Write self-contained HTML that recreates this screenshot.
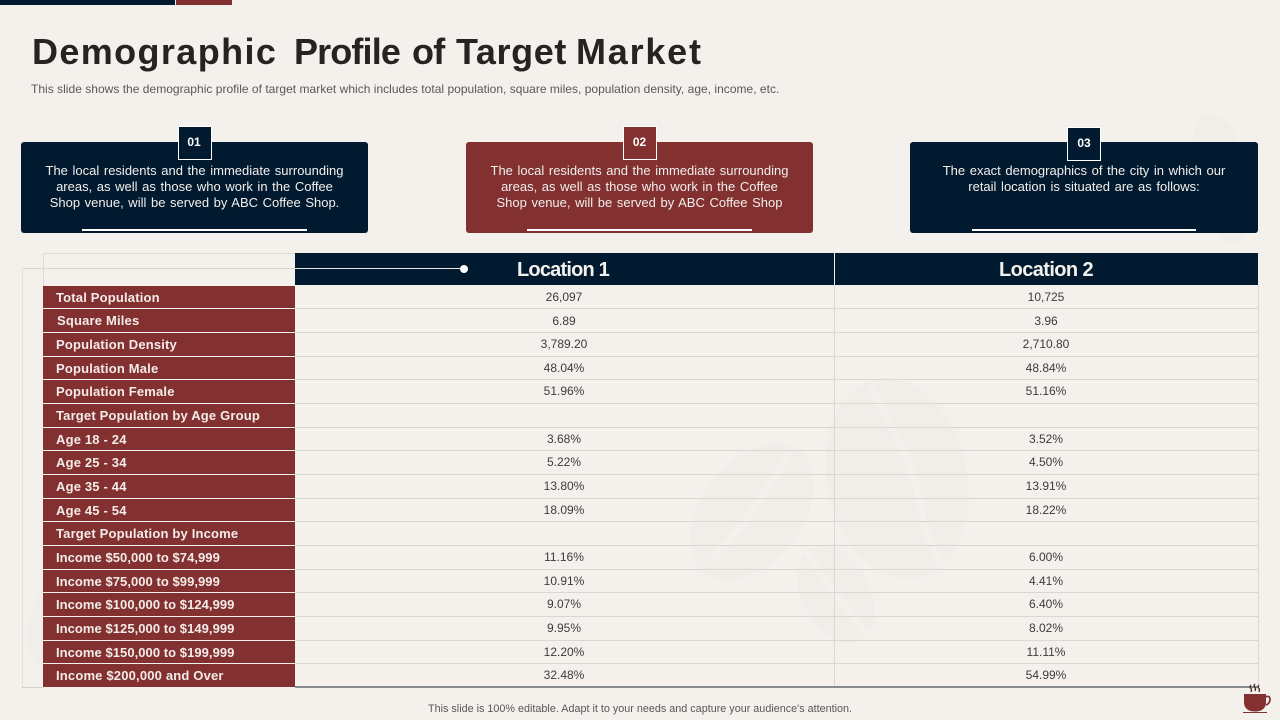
<!DOCTYPE html>
<html lang="en">
<head>
<meta charset="utf-8">
<title>Demographic Profile of Target Market</title>
<style>
html,body{margin:0;padding:0;}
body{width:1280px;height:720px;overflow:hidden;background:#f4f1ed;font-family:"Liberation Sans",sans-serif;position:relative;}
.a{position:absolute;}
.t{position:absolute;white-space:nowrap;}
.w{position:absolute;top:31px;white-space:nowrap;font-size:36px;line-height:42px;font-weight:bold;color:#262423;}
.card{position:absolute;top:142px;height:91px;border-radius:3px;}
.navy{background:#021a2f;}
.red{background:#823030;}
.card-text{position:absolute;left:0;right:0;top:21px;text-align:center;color:#f1efec;font-size:13px;line-height:16px;word-spacing:1px;}
.card-line{position:absolute;height:2px;background:#fff;top:229px;width:225px;}
.badge{position:absolute;width:32px;height:32px;border:1px solid #fff;color:#fff;font-weight:bold;font-size:12px;text-align:center;line-height:31px;}
.lab{position:absolute;left:43px;width:252px;background:#823030;color:#f3ece8;font-weight:bold;font-size:13px;line-height:23px;text-indent:13px;white-space:nowrap;letter-spacing:.18px;}
.inc{letter-spacing:.05px;}
.hline{position:absolute;left:295px;width:964px;height:1px;background:#dad7d2;}
.v{position:absolute;width:120px;text-align:center;color:#3c3c3c;font-size:12px;line-height:23px;height:23px;}
.v1{left:504px;}
.v2{left:986px;}
</style>
</head>
<body>

<svg class="a" style="left:0;top:0" width="1280" height="720">
  <g fill="#f1ede9">
    <ellipse cx="752" cy="512" rx="50" ry="78" transform="rotate(38 752 512)"/>
    <ellipse cx="897" cy="479" rx="70" ry="102" transform="rotate(-12 897 479)"/>
    <ellipse cx="836" cy="594" rx="34" ry="52" transform="rotate(-28 836 594)"/>
    <ellipse cx="1222" cy="178" rx="28" ry="66" transform="rotate(-12 1222 178)"/>
    <ellipse cx="60" cy="620" rx="30" ry="50" transform="rotate(20 60 620)"/>
  </g>
  <g stroke="#f4f1ed" stroke-width="7" fill="none">
    <path d="M712 560 Q750 520 790 450"/>
    <path d="M870 385 Q900 440 915 480 Q925 540 945 570"/>
    <path d="M808 552 Q830 590 868 635"/>
  </g>
</svg>

<div class="a navy" style="left:0;top:0;width:175px;height:5px"></div>
<div class="a red" style="left:176px;top:0;width:56px;height:5px"></div>

<div>
<span class="w" style="left:32px;letter-spacing:1.38px">Demographic</span>
<span class="w" style="left:294px;letter-spacing:-.86px">Profile</span>
<span class="w" style="left:412px;letter-spacing:-.7px">of</span>
<span class="w" style="left:456px;letter-spacing:.6px">Target</span>
<span class="w" style="left:576px;letter-spacing:1.78px">Market</span>
</div>
<div class="t" style="left:31px;top:82px;font-size:12px;line-height:15px;color:#5a5856;letter-spacing:.02px">This slide shows the demographic profile of target market which includes total population, square miles, population density, age, income, etc.</div>

<div class="card navy" style="left:21px;width:347px">
  <div class="card-text">The local residents and the immediate surrounding<br>areas, as well as those who work in the Coffee<br>Shop venue, will be served by ABC Coffee Shop.</div>
</div>
<div class="card red" style="left:466px;width:347px">
  <div class="card-text">The local residents and the immediate surrounding<br>areas, as well as those who work in the Coffee<br>Shop venue, will be served by ABC Coffee Shop</div>
</div>
<div class="card navy" style="left:910px;width:348px">
  <div class="card-text">The exact demographics of the city in which our<br>retail location is situated are as follows:</div>
</div>
<div class="card-line" style="left:82px"></div>
<div class="card-line" style="left:527px"></div>
<div class="card-line" style="left:972px;width:224px"></div>

<div class="badge navy" style="left:178px;top:126px;text-indent:-2px">01</div>
<div class="badge red" style="left:623px;top:126px;text-indent:-1px">02</div>
<div class="badge navy" style="left:1067px;top:127px">03</div>

<!-- table frame -->
<div class="a" style="left:43px;top:253px;width:252px;height:1px;background:#dedbd6"></div>
<div class="a" style="top:268px;left:22px;width:273px;height:1px;background:#d9d6d1"></div>
<div class="a" style="left:22px;top:268px;width:1px;height:420px;background:#e3e0db"></div>
<div class="a" style="left:22px;top:687px;width:21px;height:1px;background:#d5d2cd"></div>
<div class="a" style="left:43px;top:253px;width:1px;height:33px;background:#dedbd6"></div>

<div class="a navy" style="left:295px;top:253px;width:539px;height:32px"></div>
<div class="a navy" style="left:835px;top:253px;width:423px;height:32px"></div>
<div class="t" style="left:517px;top:258px;font-size:20px;line-height:24px;font-weight:bold;color:#f3f1ee;letter-spacing:-.8px">Location 1</div>
<div class="t" style="left:999px;top:258px;font-size:20px;line-height:24px;font-weight:bold;color:#f3f1ee;letter-spacing:-.6px">Location 2</div>
<div class="a" style="left:295px;top:268px;width:165px;height:1px;background:#e8e8e8"></div>
<div class="a" style="left:460px;top:265px;width:8px;height:8px;border-radius:50%;background:#fff"></div>

<!-- vertical grid -->
<div class="a" style="left:834px;top:285px;width:1px;height:402px;background:#dbd8d3"></div>
<div class="a" style="left:1258px;top:285px;width:1px;height:402px;background:#dedbd6"></div>

<!-- horizontal grid -->
<div class="hline" style="top:308px"></div>
<div class="hline" style="top:332px"></div>
<div class="hline" style="top:356px"></div>
<div class="hline" style="top:379px"></div>
<div class="hline" style="top:403px"></div>
<div class="hline" style="top:427px"></div>
<div class="hline" style="top:450px"></div>
<div class="hline" style="top:474px"></div>
<div class="hline" style="top:498px"></div>
<div class="hline" style="top:521px"></div>
<div class="hline" style="top:545px"></div>
<div class="hline" style="top:569px"></div>
<div class="hline" style="top:592px"></div>
<div class="hline" style="top:616px"></div>
<div class="hline" style="top:640px"></div>
<div class="hline" style="top:663px"></div>
<div class="a" style="left:295px;top:686px;width:964px;height:2px;background:#888b8e"></div>

<!-- labels -->
<div class="lab" style="top:286px;height:22px">Total Population</div>
<div class="lab" style="top:309px;height:23px;text-indent:14px">Square Miles</div>
<div class="lab" style="top:333px;height:23px">Population Density</div>
<div class="lab" style="top:357px;height:22px">Population Male</div>
<div class="lab" style="top:380px;height:23px">Population Female</div>
<div class="lab" style="top:404px;height:23px">Target Population by Age Group</div>
<div class="lab" style="top:428px;height:22px">Age 18 - 24</div>
<div class="lab" style="top:451px;height:23px">Age 25 - 34</div>
<div class="lab" style="top:475px;height:23px">Age 35 - 44</div>
<div class="lab" style="top:499px;height:22px">Age 45 - 54</div>
<div class="lab" style="top:522px;height:23px">Target Population by Income</div>
<div class="lab inc" style="top:546px;height:23px">Income $50,000 to $74,999</div>
<div class="lab inc" style="top:570px;height:22px">Income $75,000 to $99,999</div>
<div class="lab inc" style="top:593px;height:23px">Income $100,000 to $124,999</div>
<div class="lab inc" style="top:617px;height:23px">Income $125,000 to $149,999</div>
<div class="lab inc" style="top:641px;height:22px">Income $150,000 to $199,999</div>
<div class="lab" style="top:664px;height:23px">Income $200,000 and Over</div>

<!-- values location 1 -->
<div class="v v1" style="top:286px">26,097</div>
<div class="v v1" style="top:310px">6.89</div>
<div class="v v1" style="top:333px">3,789.20</div>
<div class="v v1" style="top:357px">48.04%</div>
<div class="v v1" style="top:380px">51.96%</div>
<div class="v v1" style="top:428px">3.68%</div>
<div class="v v1" style="top:451px">5.22%</div>
<div class="v v1" style="top:475px">13.80%</div>
<div class="v v1" style="top:499px">18.09%</div>
<div class="v v1" style="top:546px">11.16%</div>
<div class="v v1" style="top:570px">10.91%</div>
<div class="v v1" style="top:593px">9.07%</div>
<div class="v v1" style="top:617px">9.95%</div>
<div class="v v1" style="top:641px">12.20%</div>
<div class="v v1" style="top:664px">32.48%</div>

<!-- values location 2 -->
<div class="v v2" style="top:286px">10,725</div>
<div class="v v2" style="top:310px">3.96</div>
<div class="v v2" style="top:333px">2,710.80</div>
<div class="v v2" style="top:357px">48.84%</div>
<div class="v v2" style="top:380px">51.16%</div>
<div class="v v2" style="top:428px">3.52%</div>
<div class="v v2" style="top:451px">4.50%</div>
<div class="v v2" style="top:475px">13.91%</div>
<div class="v v2" style="top:499px">18.22%</div>
<div class="v v2" style="top:546px">6.00%</div>
<div class="v v2" style="top:570px">4.41%</div>
<div class="v v2" style="top:593px">6.40%</div>
<div class="v v2" style="top:617px">8.02%</div>
<div class="v v2" style="top:641px">11.11%</div>
<div class="v v2" style="top:664px">54.99%</div>

<div class="t" style="left:428px;top:703px;font-size:10.8px;line-height:13px;color:#5a5856">This slide is 100% editable. Adapt it to your needs and capture your audience's attention.</div>

<svg class="a" style="left:1240px;top:682px" width="34" height="32" viewBox="0 0 34 32">
  <path d="M4 12H26V20C26 27 21 29.500 15 29.500C9 29.500 4 27 4 20Z" fill="#823030"/>
  <path d="M26 14.500H28C31 14.500 31 21 26 23" fill="none" stroke="#823030" stroke-width="1.700"/>
  <rect x="3" y="30" width="24" height="1" fill="#823030"/>
  <path d="M11 3Q9 5 11 6.500Q12 8 11 10M15 2Q13 4 15 5.500Q16 7 15 9M19 3Q17 5 19 6.500Q20 8 19 10" fill="none" stroke="#4a2b28" stroke-width="1.300"/>
</svg>

</body>
</html>
